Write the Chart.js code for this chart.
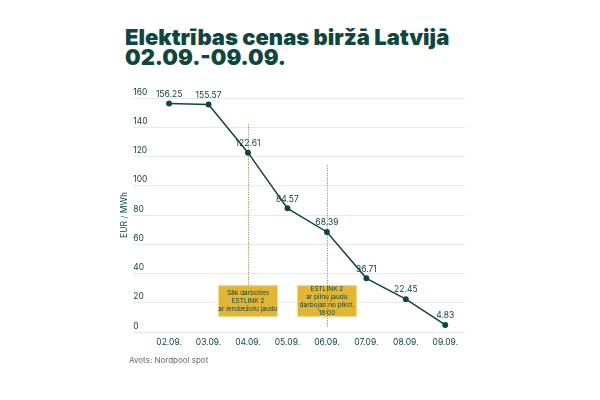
<!doctype html>
<html>
<head>
<title>Elektrības cenas biržā Latvijā</title>
<script src="https://cdn.jsdelivr.net/npm/chart.js@4.4.0/dist/chart.umd.min.js"></script>
<style>
body{margin:0;background:#fff;}
.wrap{position:relative;width:600px;height:400px;}
h1{position:absolute;left:125px;top:27px;margin:0;font-family:Inter, sans-serif;font-weight:900;font-size:22px;line-height:20px;color:#0f4640;letter-spacing:0;}
.src{position:absolute;left:129px;top:355px;font-family:Inter, sans-serif;font-size:8px;color:#666;}
canvas{position:absolute;left:0;top:0;}
</style>
</head>
<body>
<div class="wrap">
	<h1>Elektrības cenas biržā Latvijā<br>02.09.-09.09.</h1>
	<canvas id="c" width="600" height="400"></canvas>
	<div class="src">Avots: Nordpool spot</div>
</div>
<script>
var dates = ['02.09.', '03.09.', '04.09.', '05.09.', '06.09.', '07.09.', '08.09.', '09.09.'];
var prices = [156.25, 155.57, 122.61, 84.57, 68.39, 36.71, 22.45, 4.83];
var noteDays = [2, 4];
var noteTexts = [
	['Sāk darboties', 'ESTLINK 2', 'ar ierobežotu jaudu'],
	['ESTLINK 2', 'ar pilnu jaudu', 'darbojas no plkst.', '18:00']
];

var teal = '#0f4640';
var font = 'Inter, sans-serif';

// dotted markers + yellow notes, and value labels above points
var notesPlugin = {
	id: 'notes',
	beforeDatasetsDraw: function(chart) {
		var ctx = chart.ctx, x = chart.scales.x, y = chart.scales.y;
		var lineTop = [142, 114], lineBottom = [32, 3.4];
		noteDays.forEach(function(d, i) {
			var px = x.getPixelForValue(d);
			var bl = x.getPixelForValue(d - 0.76), br = x.getPixelForValue(d + 0.76);
			var bt = y.getPixelForValue(32), bb = y.getPixelForValue(10.3);
			ctx.save();
			ctx.fillStyle = '#e3b534';
			ctx.strokeStyle = '#f3dc8e';
			ctx.lineWidth = 1;
			ctx.fillRect(bl, bt, br - bl, bb - bt);
			ctx.strokeRect(bl + 0.5, bt + 0.5, br - bl - 1, bb - bt - 1);
			ctx.strokeStyle = '#8f7d35';
			ctx.setLineDash([1, 1.5]);
			ctx.beginPath();
			ctx.moveTo(Math.round(px) + 0.5, y.getPixelForValue(lineTop[i]));
			ctx.lineTo(Math.round(px) + 0.5, y.getPixelForValue(lineBottom[i]));
			ctx.stroke();
			ctx.setLineDash([]);
			ctx.fillStyle = teal;
			ctx.font = '6.5px ' + font;
			ctx.textAlign = 'center';
			ctx.textBaseline = 'middle';
			var lines = noteTexts[i];
			var mid = (bt + bb) / 2, lh = 8;
			lines.forEach(function(t, k) {
				ctx.fillText(t, px, mid + (k - (lines.length - 1) / 2) * lh);
			});
			ctx.restore();
		});
	},
	afterDatasetsDraw: function(chart) {
		var ctx = chart.ctx, meta = chart.getDatasetMeta(0);
		ctx.save();
		ctx.fillStyle = teal;
		ctx.font = '8.5px ' + font;
		ctx.textAlign = 'center';
		ctx.textBaseline = 'bottom';
		meta.data.forEach(function(p, i) {
			ctx.fillText(prices[i].toFixed(2), p.x, p.y - 5);
		});
		ctx.restore();
	}
};

new Chart(document.getElementById('c'), {
	type: 'line',
	data: {
		datasets: [{
			data: prices.map(function(v, i) { return {x: i, y: v}; }),
			borderColor: teal,
			backgroundColor: teal,
			borderWidth: 1.5,
			pointRadius: 2.2,
			pointHoverRadius: 2.2,
			tension: 0,
			clip: false
		}]
	},
	options: {
		responsive: false,
		animation: false,
		layout: {padding: {left: 119, right: 135, top: 98, bottom: 38}},
		plugins: {legend: {display: false}, tooltip: {enabled: false}},
		scales: {
			x: {
				type: 'linear',
				min: -0.91,
				max: 7.5,
				afterBuildTicks: function(s) { s.ticks = dates.map(function(d, i) { return {value: i}; }); },
				grid: {display: false},
				border: {display: false},
				afterFit: function(s) { s.height = 30; },
				ticks: {
					autoSkip: false,
					maxRotation: 0,
					padding: -3,
					color: teal,
					font: {family: font, size: 8.5},
					callback: function(v) { return dates[v] || ''; }
				}
			},
			y: {
				min: 0,
				max: 160,
				grid: {color: '#e9e9e9', drawTicks: false},
				border: {display: false},
				title: {display: true, text: 'EUR / MWh', color: teal, font: {family: font, size: 8.5}, padding: {top: 0, bottom: 4}},
				ticks: {
					stepSize: 20,
					mirror: true,
					padding: 0,
					labelOffset: -6,
					color: teal,
					font: {family: font, size: 8.5}
				}
			}
		}
	},
	plugins: [notesPlugin]
});
</script>
</body>
</html>
